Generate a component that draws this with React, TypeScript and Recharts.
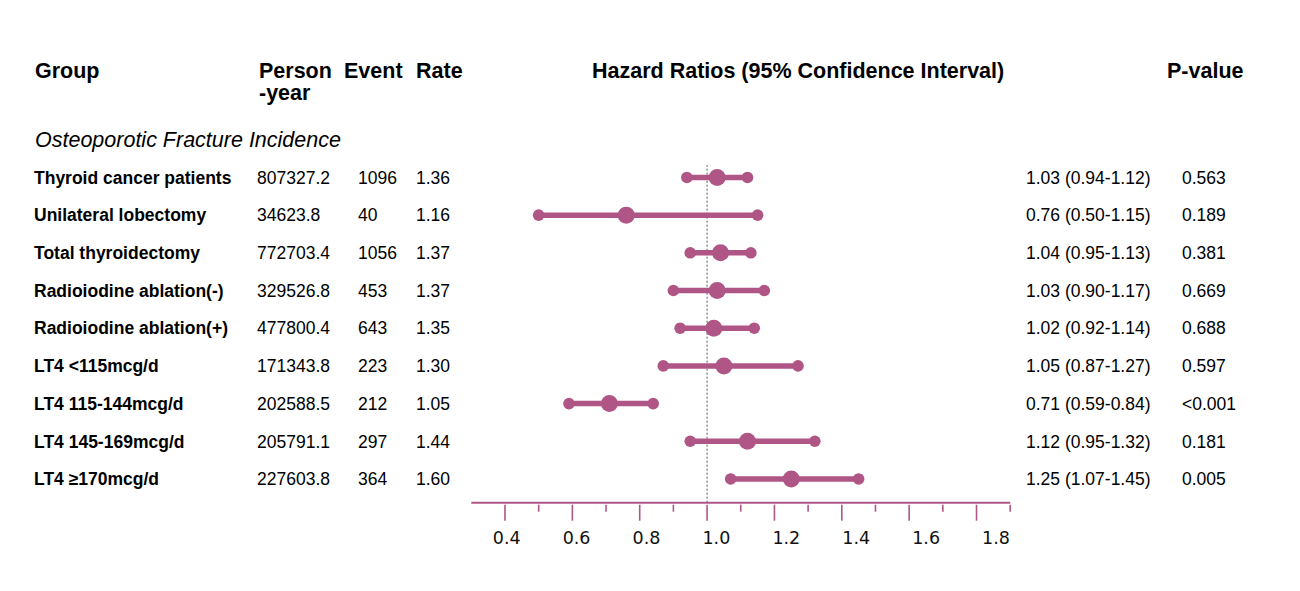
import { ReferenceLine, Scatter, ScatterChart, XAxis, YAxis } from "recharts";

const groups = [
  "Thyroid cancer patients",
  "Unilateral lobectomy",
  "Total thyroidectomy",
  "Radioiodine ablation(-)",
  "Radioiodine ablation(+)",
  "LT4 <115mcg/d",
  "LT4 115-144mcg/d",
  "LT4 145-169mcg/d",
  "LT4 ≥170mcg/d",
];
const personYears = ["807327.2", "34623.8", "772703.4", "329526.8", "477800.4", "171343.8", "202588.5", "205791.1", "227603.8"];
const events = [1096, 40, 1056, 453, 643, 223, 212, 297, 364];
const rates = ["1.36", "1.16", "1.37", "1.37", "1.35", "1.30", "1.05", "1.44", "1.60"];
const hazardRatios = [1.03, 0.76, 1.04, 1.03, 1.02, 1.05, 0.71, 1.12, 1.25];
const lowerCI = [0.94, 0.5, 0.95, 0.9, 0.92, 0.87, 0.59, 0.95, 1.07];
const upperCI = [1.12, 1.15, 1.13, 1.17, 1.14, 1.27, 0.84, 1.32, 1.45];
const pValues = ["0.563", "0.189", "0.381", "0.669", "0.688", "0.597", "<0.001", "0.181", "0.005"];

const axisTicks = [0.4, 0.5, 0.6, 0.7, 0.8, 0.9, 1.0, 1.1, 1.2, 1.3, 1.4, 1.5, 1.6, 1.7, 1.8, 1.9];
const majorTicks = [0.4, 0.6, 0.8, 1.0, 1.2, 1.4, 1.6, 1.8];
const rowIndex = [0, 1, 2, 3, 4, 5, 6, 7, 8];

const PINK = "#AF5686";
const ARIAL = "'Liberation Sans', Arial, sans-serif";

const rows = groups.map((g, i) => ({
  group: g,
  data: [
    { x: lowerCI[i], y: i, kind: "lo" },
    { x: hazardRatios[i], y: i, kind: "hr" },
    { x: upperCI[i], y: i, kind: "hi" },
  ],
}));

// label axis needs something attached or it is not drawn
const labelAnchors = majorTicks.map((v) => ({ x: v, y: 8 }));

const Dot = (props: any) => (
  <circle cx={props.cx} cy={props.cy} r={props.payload.kind === "hr" ? 8.5 : 5.8} fill={PINK} />
);

const AxisTick = (props: any) => {
  const v = props.payload.value;
  const major = majorTicks.some((m) => Math.abs(m - v) < 1e-6);
  return <line x1={props.x} x2={props.x} y1={props.y} y2={props.y + (major ? 16 : 7)} stroke={PINK} strokeWidth={1.6} />;
};

const LabelTick = (props: any) => (
  <text x={props.x} y={props.y + 9} textAnchor="middle" fontFamily="'DejaVu Sans', sans-serif" fontSize={17.5} fill="#111">
    {props.payload.value.toFixed(1)}
  </text>
);

const RowTick = (props: any) => {
  const i = props.payload.value;
  const y = props.y + 6.3;
  const t = { fontFamily: ARIAL, fontSize: 17.5, fill: "#000" };
  return (
    <g>
      <text x={26} y={y} {...t} fontWeight="bold">{groups[i]}</text>
      <text x={249} y={y} {...t}>{personYears[i]}</text>
      <text x={350} y={y} {...t}>{events[i]}</text>
      <text x={408} y={y} {...t}>{rates[i]}</text>
      <text x={1018} y={y} {...t}>
        {`${hazardRatios[i].toFixed(2)} (${lowerCI[i].toFixed(2)}-${upperCI[i].toFixed(2)})`}
      </text>
      <text x={1174} y={y} {...t}>{pValues[i]}</text>
    </g>
  );
};

export default function App() {
  const h = { fontFamily: ARIAL, fontSize: 21.5, fontWeight: "bold" as const, fill: "#000" };
  return (
    <div style={{ position: "relative", width: 1284, height: 575 }}>
      <ScatterChart width={1284} height={575} margin={{ top: 157, right: 281.8, bottom: 20.3, left: 0 }}>
        <XAxis
          xAxisId="hr"
          type="number"
          dataKey="x"
          domain={[0.3, 1.9]}
          allowDataOverflow
          ticks={axisTicks}
          interval={0}
          tickSize={0}
          tickLine={false}
          axisLine={{ stroke: PINK, strokeWidth: 2 }}
          tick={<AxisTick />}
          height={30}
        />
        <XAxis
          xAxisId="lbl"
          type="number"
          dataKey="x"
          domain={[0.2987, 1.8406]}
          allowDataOverflow
          ticks={majorTicks}
          interval={0}
          tickSize={0}
          tickLine={false}
          axisLine={false}
          tick={<LabelTick />}
          height={30}
        />
        <YAxis
          type="number"
          dataKey="y"
          domain={[-0.33, 8.63]}
          allowDataOverflow
          reversed
          ticks={rowIndex}
          interval={0}
          width={463.3}
          axisLine={false}
          tickLine={false}
          tick={<RowTick />}
        />
        <ReferenceLine xAxisId="hr" x={1} stroke="#555" strokeDasharray="2 2" strokeWidth={1} />
        {rows.map((r) => (
          <Scatter
            key={r.group}
            xAxisId="hr"
            data={r.data}
            fill={PINK}
            line={{ stroke: PINK, strokeWidth: 5.5 }}
            shape={<Dot />}
            isAnimationActive={false}
          />
        ))}
        <Scatter
          xAxisId="lbl"
          data={labelAnchors}
          shape={() => <g />}
          legendType="none"
          isAnimationActive={false}
        />
      </ScatterChart>
      <svg width={1284} height={160} style={{ position: "absolute", left: 0, top: 0, pointerEvents: "none" }}>
        <text x={27} y={69.5} {...h}>Group</text>
        <text x={251} y={69.5} {...h}>Person</text>
        <text x={251} y={92} {...h}>-year</text>
        <text x={336} y={69.5} {...h}>Event</text>
        <text x={408} y={69.5} {...h}>Rate</text>
        <text x={584} y={69.5} {...h}>Hazard Ratios (95% Confidence Interval)</text>
        <text x={1159} y={69.5} {...h}>P-value</text>
        <text x={27} y={138.5} fontFamily={ARIAL} fontSize={21.5} fontStyle="italic" fill="#000">
          Osteoporotic Fracture Incidence
        </text>
      </svg>
    </div>
  );
}
